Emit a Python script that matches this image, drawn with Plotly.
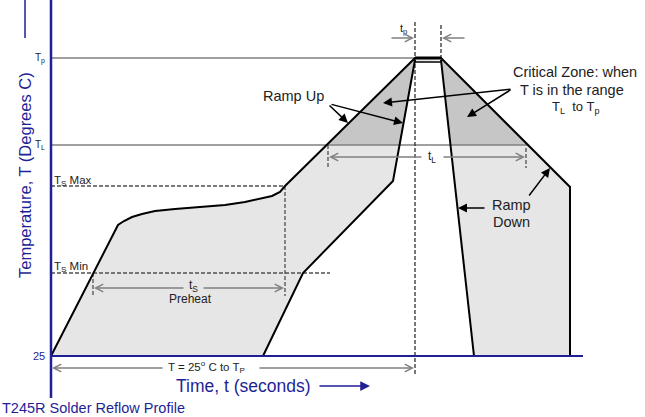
import plotly.graph_objects as go

# ---- diagram data (time position, temperature position; screen-style units, 0 at top) ----
outer_time = [51, 118, 124, 132, 142, 155, 175, 200, 225, 245, 260, 272, 280, 285, 415, 441, 570, 570]
outer_temp = [356, 225, 221, 217, 214, 211, 209, 207, 205, 202, 199, 196, 192, 186, 58, 58, 187, 356]
inner_left_time = [263, 303, 393, 415]
inner_left_temp = [356, 273, 181, 60]
inner_right_time = [441, 474]
inner_right_temp = [60, 356]
crit_left_time = [328, 415, 415, 400]
crit_left_temp = [145, 58, 60, 145]
crit_right_time = [441, 528, 450, 441]
crit_right_temp = [58, 145, 145, 60]

level_names = ["T<sub>p</sub>", "T<sub>L</sub>", "25"]
level_pos = [58, 145, 356]
ts_max, ts_min = 186, 273
t_start, t_axis_end = 51, 583
t_peak_a, t_peak_b = 415, 441
t_TL_a, t_TL_b = 328, 526
t_ts_a, t_ts_b = 93, 285

BLUE = "#1f1f96"
GRAY = "#808080"
DASH = "#505050"
FONT = "Arial, Liberation Sans, sans-serif"

fig = go.Figure()

def seg(xs, ys, color="black", width=2, dash=None):
    fig.add_trace(go.Scatter(x=xs, y=ys, mode="lines",
                             line=dict(color=color, width=width, dash=dash),
                             hoverinfo="skip"))

def poly(xs, ys, color):
    fig.add_trace(go.Scatter(x=xs, y=ys, mode="lines", fill="toself",
                             fillcolor=color, line=dict(width=0), hoverinfo="skip"))

# fills
gray_x = outer_time + inner_right_time[::-1] + [t_peak_a] + inner_left_time[::-1][1:]
gray_y = outer_temp + inner_right_temp[::-1] + [62] + inner_left_temp[::-1][1:]
poly(gray_x, gray_y, "#e6e6e6")
poly(crit_left_time, crit_left_temp, "#c6c6c6")
poly(crit_right_time, crit_right_temp, "#c6c6c6")

# reference levels
seg([t_start, t_peak_a], [level_pos[0]] * 2, GRAY, 1.5)
seg([t_start, 528], [level_pos[1]] * 2, GRAY, 1.5)
seg([t_start, t_ts_b], [ts_max] * 2, DASH, 1.3, "4px,2px")
seg([t_start, 330], [ts_min] * 2, DASH, 1.3, "4px,2px")

# vertical dashed markers
seg([t_peak_a, t_peak_a], [22, 376], "#303030", 1.3, "4px,2px")
seg([t_peak_b, t_peak_b], [25, 58], "#303030", 1.3, "4px,2px")
seg([t_TL_a, t_TL_a], [145, 168], DASH, 1.3, "4px,2px")
seg([t_TL_b, t_TL_b], [148, 168], DASH, 1.3, "4px,2px")
seg([t_ts_a, t_ts_a], [ts_min, 296], DASH, 1.3, "4px,2px")
seg([t_ts_b, t_ts_b], [ts_max, 296], DASH, 1.3, "4px,2px")

# profile lines
seg(outer_time, outer_temp, "black", 2)
seg(inner_left_time, inner_left_temp, "black", 2)
seg(inner_right_time, inner_right_temp, "black", 2)
seg([t_peak_a, t_peak_b], [58, 58], "black", 3)
seg([t_peak_a, t_peak_b], [62, 62], "black", 1.5)

# axes
seg([t_start, t_start], [0, 398], BLUE, 2.5)
seg([t_start, t_axis_end], [356, 356], BLUE, 2)
seg([25, 25], [0, 38], BLUE, 1.5)

ann = []
def text(x, y, s, size=13, color="#222222", xanchor="center", yanchor="middle", angle=0):
    ann.append(dict(x=x, y=y, text=s, showarrow=False, xref="x", yref="y",
                    xanchor=xanchor, yanchor=yanchor, textangle=angle,
                    font=dict(family=FONT, size=size, color=color)))

def arrow(x0, y0, x1, y1, color="black", head=2, width=1.5, size=1.2):
    ann.append(dict(x=x1, y=y1, ax=x0, ay=y0, xref="x", yref="y", axref="x", ayref="y",
                    text="", showarrow=True, arrowhead=head, arrowsize=size,
                    arrowwidth=width, arrowcolor=color, standoff=0, startstandoff=0))

# level labels
text(47, level_pos[0], level_names[0], 10, "#222222", "right")
text(47, level_pos[1], level_names[1], 10, "#222222", "right")
text(47, level_pos[2], level_names[2], 11, BLUE, "right")
text(52, ts_max - 5, "T<sub>S</sub> Max", 11.5, "#222222", "left")
text(52, ts_min - 6, "T<sub>S</sub> Min", 11.5, "#222222", "left")

# axis titles / caption
text(25, 175, "Temperature, T (Degrees C)", 16.5, BLUE, angle=-90)
text(243, 386, "Time, t (seconds)", 17.5, BLUE)
arrow(318, 386, 370, 386, BLUE, 2, 1.5, 1.3)
text(0, 408, "T245R Solder Reflow Profile", 14.5, BLUE, "left")

# dimension arrows
text(403, 38, "t<sub>p</sub>", 11, "#222222", yanchor="bottom")
arrow(390, 38, 414, 38, GRAY, 5, 1.5, 1)
arrow(466, 38, 442, 38, GRAY, 5, 1.5, 1)
text(432, 157, "t<sub>L</sub>", 12)
arrow(423, 157, 329, 157, GRAY, 5, 1.5, 1)
arrow(442, 157, 525, 157, GRAY, 5, 1.5, 1)
text(193, 286, "t<sub>S</sub>", 12)
text(190, 299, "Preheat", 12)
arrow(185, 288, 94, 288, GRAY, 5, 1.5, 1)
arrow(202, 288, 284, 288, GRAY, 5, 1.5, 1)
text(206, 367, "T = 25<sup>o</sup> C to T<sub>P</sub>", 11.5)
arrow(164, 368, 52, 368, GRAY, 5, 1.5, 1)
arrow(258, 368, 414, 368, GRAY, 5, 1.5, 1)

# callouts
text(293, 96, "Ramp Up", 14.5)
arrow(328, 104, 348, 123)
arrow(330, 104, 403, 123)
text(575, 72, "Critical Zone: when", 14.5)
text(572, 90, "T is in the range", 14.5)
text(575, 107, "T<sub>L</sub>  to T<sub>p</sub>", 13)
arrow(512, 89, 383, 103)
arrow(512, 89, 467, 117)
text(511, 205, "Ramp", 14.5)
text(511, 222, "Down", 14.5)
arrow(486, 208, 458, 208)
arrow(528, 197, 550, 168)

fig.update_layout(
    width=645, height=417, margin=dict(l=0, r=0, t=0, b=0),
    paper_bgcolor="white", plot_bgcolor="white", showlegend=False,
    xaxis=dict(visible=False, range=[0, 645], fixedrange=True),
    yaxis=dict(visible=False, range=[417, 0], fixedrange=True),
    annotations=ann,
)
fig.write_html("out.html")
